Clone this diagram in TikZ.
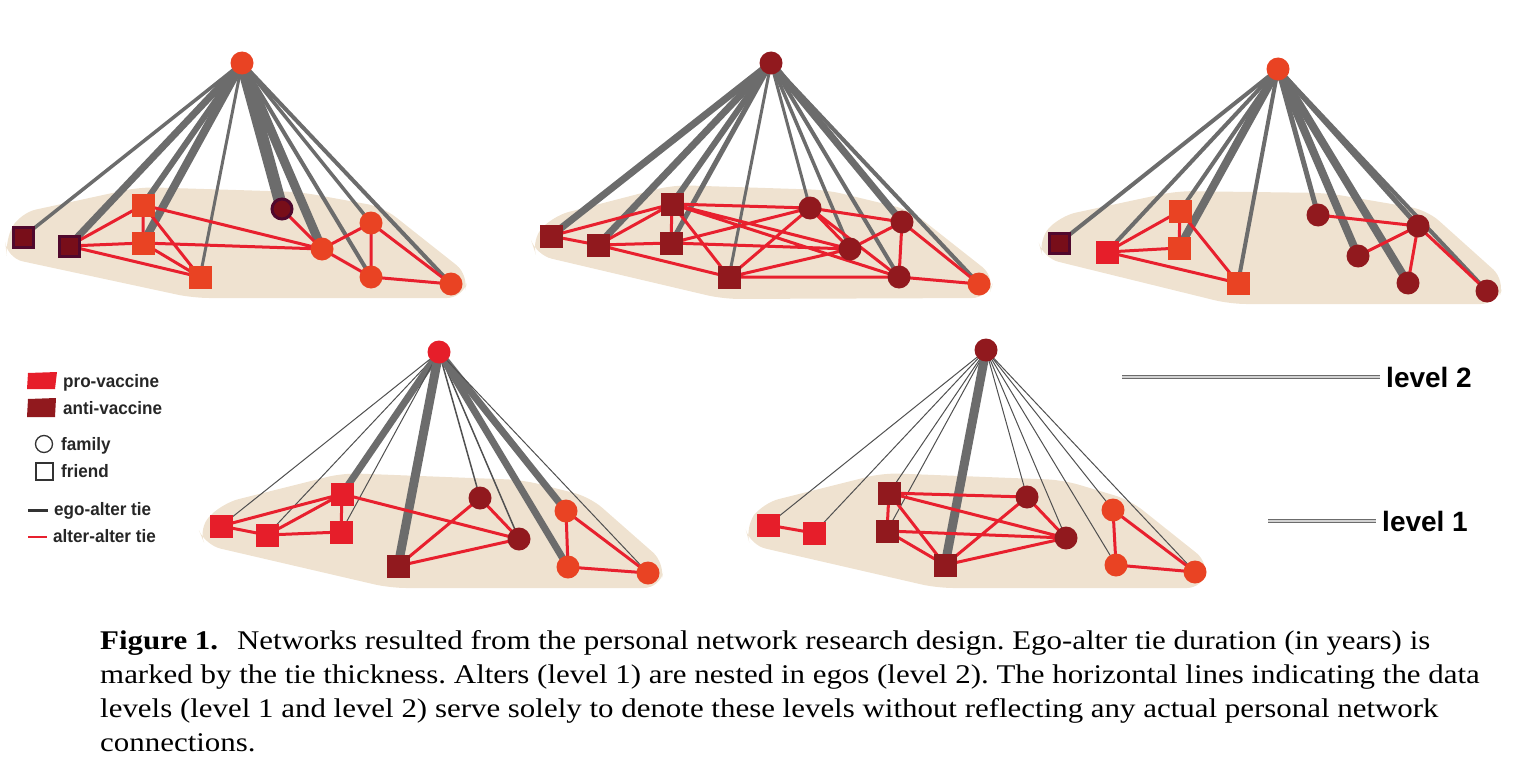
\documentclass[tikz,border=0pt]{standalone}
\usepackage{fontspec}
\setmainfont{Liberation Serif}
\newfontfamily\capfont{Liberation Serif}[FakeStretch=1.145]
\newfontfamily\labfont{Liberation Sans}[FakeStretch=0.95]
\newfontfamily\lvlfont{Liberation Sans}
\definecolor{orng}{RGB}{233,67,35}
\definecolor{pro}{RGB}{230,30,42}
\definecolor{anti}{RGB}{145,25,30}
\definecolor{plumrim}{RGB}{80,8,45}
\definecolor{plumcore}{RGB}{120,14,25}
\definecolor{tiegray}{RGB}{108,108,108}
\definecolor{hairgray}{RGB}{80,80,80}
\definecolor{linkred}{RGB}{232,32,46}
\definecolor{sand}{RGB}{239,226,208}
\pgfdeclarelayer{blob}
\pgfdeclarelayer{ties}
\pgfsetlayers{blob,ties,main}

\begin{document}
\begin{tikzpicture}[x=1pt,y=-1pt,
  circ/.style={circle,minimum size=23pt,inner sep=0pt,outer sep=0pt},
  sq/.style={rectangle,minimum size=23pt,inner sep=0pt,outer sep=0pt},
  pp/.style={draw=plumrim,fill=plumcore,line width=3pt,minimum size=20pt},
  tie/.style={draw=tiegray},
  hair/.style={draw=hairgray,line width=1pt},
  link/.style={draw=linkred,line width=3pt},
  area/.style={fill=sand,rounded corners=16pt},
  lab/.style={font=\labfont\bfseries\fontsize{18}{21}\selectfont,text=black!85,anchor=base west,inner sep=0pt},
  lvl/.style={font=\lvlfont\bfseries\fontsize{28}{32}\selectfont,anchor=west,inner sep=0pt},
  lvline/.style={draw=gray!85!black,double=gray!35,double distance=1.5pt,line width=1.2pt},
  captext/.style={font=\capfont\frenchspacing\fontsize{27}{34}\selectfont,anchor=base west,inner sep=0pt}]
        \useasboundingbox (0,0) rectangle (1522,776);

        \begin{pgfonlayer}{blob}
        \fill[area] (5,240) -- (20,213) -- (140,187) -- (300,192) -- (383,207) -- (469,275) -- (463,298) -- (193,298) -- (7,258) -- cycle;
        \fill[area] (531,240) -- (553,216) -- (673,185) -- (827,190) -- (910,210) -- (995,277) -- (988,298) -- (723,299) -- (536,255) -- cycle;
        \fill[area] (1038,240) -- (1060,216) -- (1177,191) -- (1327,193) -- (1427,210) -- (1505,280) -- (1497,304) -- (1230,304) -- (1043,258) -- cycle;
        \fill[area] (198,528) -- (223,503) -- (343,473) -- (523,480) -- (590,497) -- (665,563) -- (660,588) -- (390,588) -- (205,545) -- cycle;
        \fill[area] (745,527) -- (763,503) -- (883,473) -- (1063,480) -- (1130,500) -- (1209,563) -- (1203,588) -- (937,588) -- (750,545) -- cycle;
        \end{pgfonlayer}

        \node[circ,fill=orng] (ego1) at (242,63) {};
        \node[sq,pp] (a1) at (23,237) {};
        \node[sq,pp] (a2) at (69,246) {};
        \node[sq,fill=orng] (a3) at (143,205) {};
        \node[sq,fill=orng] (a4) at (143,243) {};
        \node[sq,fill=orng] (a5) at (200,277) {};
        \node[circ,pp] (a6) at (282,209) {};
        \node[circ,fill=orng] (a7) at (322,249) {};
        \node[circ,fill=orng] (a8) at (371,223) {};
        \node[circ,fill=orng] (a9) at (371,277) {};
        \node[circ,fill=orng] (a10) at (451,284) {};

        \node[circ,fill=anti] (ego2) at (771,63) {};
        \node[sq,fill=anti] (b1) at (551,236) {};
        \node[sq,fill=anti] (b2) at (598,245) {};
        \node[sq,fill=anti] (b3) at (672,204) {};
        \node[sq,fill=anti] (b4) at (671,243) {};
        \node[sq,fill=anti] (b5) at (729,277) {};
        \node[circ,fill=anti] (b6) at (810,208) {};
        \node[circ,fill=anti] (b7) at (902,222) {};
        \node[circ,fill=anti] (b8) at (850,249) {};
        \node[circ,fill=anti] (b9) at (899,277) {};
        \node[circ,fill=orng] (b10) at (979,284) {};

        \node[circ,fill=orng] (ego3) at (1278,69) {};
        \node[sq,pp] (c1) at (1059,243) {};
        \node[sq,fill=pro] (c2) at (1107,252) {};
        \node[sq,fill=orng] (c3) at (1180,211) {};
        \node[sq,fill=orng] (c4) at (1179,248) {};
        \node[sq,fill=orng] (c5) at (1238,283) {};
        \node[circ,fill=anti] (c6) at (1318,215) {};
        \node[circ,fill=anti] (c7) at (1358,256) {};
        \node[circ,fill=anti] (c8) at (1418,226) {};
        \node[circ,fill=anti] (c9) at (1408,283) {};
        \node[circ,fill=anti] (c10) at (1487,291) {};

        \node[circ,fill=pro] (ego4) at (439,352) {};
        \node[sq,fill=pro] (d1) at (221,526) {};
        \node[sq,fill=pro] (d2) at (267,535) {};
        \node[sq,fill=pro] (d3) at (342,494) {};
        \node[sq,fill=pro] (d4) at (341,532) {};
        \node[sq,fill=anti] (d5) at (398,566) {};
        \node[circ,fill=anti] (d6) at (480,498) {};
        \node[circ,fill=anti] (d7) at (519,539) {};
        \node[circ,fill=orng] (d8) at (566,511) {};
        \node[circ,fill=orng] (d9) at (568,567) {};
        \node[circ,fill=orng] (d10) at (648,573) {};

        \node[circ,fill=anti] (ego5) at (986,350) {};
        \node[sq,fill=pro] (e1) at (768,525) {};
        \node[sq,fill=pro] (e2) at (814,533) {};
        \node[sq,fill=anti] (e3) at (889,493) {};
        \node[sq,fill=anti] (e4) at (887,531) {};
        \node[sq,fill=anti] (e5) at (945,565) {};
        \node[circ,fill=anti] (e6) at (1027,497) {};
        \node[circ,fill=anti] (e7) at (1066,538) {};
        \node[circ,fill=orng] (e8) at (1113,510) {};
        \node[circ,fill=orng] (e9) at (1116,565) {};
        \node[circ,fill=orng] (e10) at (1195,572) {};

        \begin{pgfonlayer}{ties}
        \draw[tie,line width=3.5pt] (ego1.center) -- (a1.center);
        \draw[tie,line width=7pt] (ego1.center) -- (a2.center);
        \draw[tie,line width=6pt] (ego1.center) -- (a3.center);
        \draw[tie,line width=8pt] (ego1.center) -- (a4.center);
        \draw[tie,line width=3pt] (ego1.center) -- (a5.center);
        \draw[tie,line width=12pt] (ego1.center) -- (a6.center);
        \draw[tie,line width=9pt] (ego1.center) -- (a7.center);
        \draw[tie,line width=3.5pt] (ego1.center) -- (a8.center);
        \draw[tie,line width=4pt] (ego1.center) -- (a9.center);
        \draw[tie,line width=4pt] (ego1.center) -- (a10.center);
        \draw[link] (a2.center) -- (a3.center) (a2.center) -- (a4.center) (a2.center) -- (a5.center)
          (a3.center) -- (a4.center) (a3.center) -- (a5.center) (a4.center) -- (a5.center)
          (a3.center) -- (a7.center) (a4.center) -- (a7.center) (a6.center) -- (a7.center)
          (a7.center) -- (a8.center) (a7.center) -- (a9.center) (a8.center) -- (a9.center)
          (a8.center) -- (a10.center) (a9.center) -- (a10.center);

        \draw[tie,line width=7pt] (ego2.center) -- (b1.center);
        \draw[tie,line width=7pt] (ego2.center) -- (b2.center);
        \draw[tie,line width=6pt] (ego2.center) -- (b3.center);
        \draw[tie,line width=5pt] (ego2.center) -- (b4.center);
        \draw[tie,line width=3pt] (ego2.center) -- (b5.center);
        \draw[tie,line width=3pt] (ego2.center) -- (b6.center);
        \draw[tie,line width=7pt] (ego2.center) -- (b7.center);
        \draw[tie,line width=3.5pt] (ego2.center) -- (b8.center);
        \draw[tie,line width=4pt] (ego2.center) -- (b9.center);
        \draw[tie,line width=4pt] (ego2.center) -- (b10.center);
        \draw[link] (b1.center) -- (b2.center) (b1.center) -- (b3.center) (b2.center) -- (b3.center)
          (b2.center) -- (b4.center) (b2.center) -- (b5.center) (b3.center) -- (b4.center)
          (b3.center) -- (b5.center) (b3.center) -- (b6.center) (b3.center) -- (b8.center)
          (b3.center) -- (b9.center) (b4.center) -- (b6.center) (b4.center) -- (b8.center)
          (b5.center) -- (b6.center) (b5.center) -- (b8.center) (b5.center) -- (b9.center)
          (b6.center) -- (b7.center) (b6.center) -- (b8.center) (b6.center) -- (b9.center)
          (b7.center) -- (b8.center) (b7.center) -- (b9.center) (b7.center) -- (b10.center)
          (b9.center) -- (b10.center);

        \draw[tie,line width=4pt] (ego3.center) -- (c1.center);
        \draw[tie,line width=4pt] (ego3.center) -- (c2.center);
        \draw[tie,line width=4pt] (ego3.center) -- (c3.center);
        \draw[tie,line width=8pt] (ego3.center) -- (c4.center);
        \draw[tie,line width=4pt] (ego3.center) -- (c5.center);
        \draw[tie,line width=5pt] (ego3.center) -- (c6.center);
        \draw[tie,line width=8pt] (ego3.center) -- (c7.center);
        \draw[tie,line width=5pt] (ego3.center) -- (c8.center);
        \draw[tie,line width=8pt] (ego3.center) -- (c9.center);
        \draw[tie,line width=4pt] (ego3.center) -- (c10.center);
        \draw[link] (c2.center) -- (c3.center) (c2.center) -- (c4.center) (c2.center) -- (c5.center)
          (c3.center) -- (c4.center) (c3.center) -- (c5.center) (c6.center) -- (c8.center)
          (c7.center) -- (c8.center) (c8.center) -- (c9.center) (c8.center) -- (c10.center);

        \draw[hair] (ego4.center) -- (d1.center);
        \draw[hair] (ego4.center) -- (d2.center);
        \draw[tie,line width=7pt] (ego4.center) -- (d3.center);
        \draw[hair] (ego4.center) -- (d4.center);
        \draw[tie,line width=9pt] (ego4.center) -- (d5.center);
        \draw[hair,line width=1.5pt] (ego4.center) -- (d6.center);
        \draw[hair,line width=1.5pt] (ego4.center) -- (d7.center);
        \draw[tie,line width=7pt] (ego4.center) -- (d8.center);
        \draw[tie,line width=7pt] (ego4.center) -- (d9.center);
        \draw[hair] (ego4.center) -- (d10.center);
        \draw[link] (d1.center) -- (d2.center) (d1.center) -- (d3.center) (d2.center) -- (d3.center)
          (d2.center) -- (d4.center) (d3.center) -- (d4.center) (d3.center) -- (d7.center)
          (d5.center) -- (d6.center) (d5.center) -- (d7.center) (d6.center) -- (d7.center)
          (d8.center) -- (d9.center) (d8.center) -- (d10.center) (d9.center) -- (d10.center);

        \draw[hair] (ego5.center) -- (e1.center);
        \draw[hair] (ego5.center) -- (e2.center);
        \draw[hair] (ego5.center) -- (e3.center);
        \draw[hair] (ego5.center) -- (e4.center);
        \draw[tie,line width=9pt] (ego5.center) -- (e5.center);
        \draw[hair] (ego5.center) -- (e6.center);
        \draw[hair] (ego5.center) -- (e7.center);
        \draw[hair] (ego5.center) -- (e8.center);
        \draw[hair] (ego5.center) -- (e9.center);
        \draw[hair] (ego5.center) -- (e10.center);
        \draw[link] (e1.center) -- (e2.center) (e3.center) -- (e4.center) (e3.center) -- (e5.center)
          (e3.center) -- (e6.center) (e3.center) -- (e7.center) (e4.center) -- (e5.center)
          (e4.center) -- (e7.center) (e5.center) -- (e6.center) (e5.center) -- (e7.center)
          (e6.center) -- (e7.center) (e8.center) -- (e9.center) (e8.center) -- (e10.center)
          (e9.center) -- (e10.center);
        \end{pgfonlayer}

        \fill[pro] (28,373) -- (57,372) -- (55,389) -- (27,389) -- cycle;
        \fill[anti] (28,399) -- (56,398) -- (55,417) -- (27,417) -- cycle;
        \node[circle,draw=black!80,line width=1.3pt,minimum size=17pt,inner sep=0pt] (kfam) at (44,444) {};
        \node[rectangle,draw=black!80,line width=1.3pt,minimum size=17pt,inner sep=0pt] (kfri) at (44.5,471.5) {};
        \coordinate (kego) at (28,510);
        \coordinate (kalt) at (28,537);
        \node[lab] (tpro) at (63,387) {pro-vaccine};
        \node[lab] (tanti) at (63,414) {anti-vaccine};
        \node[lab] (tfam) at (61,450) {family};
        \node[lab] (tfri) at (61,477) {friend};
        \node[lab] (tego) at (54,515) {ego-alter tie};
        \node[lab] (talt) at (53,542) {alter-alter tie};
        \draw[draw=black!80,line width=3pt] (kego) -- ([xshift=-6pt]tego.west |- kego);
        \draw[link,line width=2.5pt] (kalt) -- ([xshift=-6pt]talt.west |- kalt);

        \node[lvl] (lv2) at (1386,377) {level 2};
        \node[lvl] (lv1) at (1382,521) {level 1};
        \coordinate (lv2s) at (1122,377);
        \coordinate (lv1s) at (1268,521);
        \draw[lvline] (lv2s) -- ([xshift=-6pt]lv2.west);
        \draw[lvline] (lv1s) -- ([xshift=-6pt]lv1.west);

        \node[captext] (cap1) at (100,649) {\textbf{Figure 1.}\hspace{0.7em}Networks resulted from the personal network research design. Ego-alter tie duration (in years) is};
        \node[captext] (cap2) at (100,683) {marked by the tie thickness. Alters (level 1) are nested in egos (level 2). The horizontal lines indicating the data};
        \node[captext] (cap3) at (100,717) {levels (level 1 and level 2) serve solely to denote these levels without reflecting any actual personal network};
        \node[captext] (cap4) at (100,751) {connections.};
      \end{tikzpicture}
\end{document}
